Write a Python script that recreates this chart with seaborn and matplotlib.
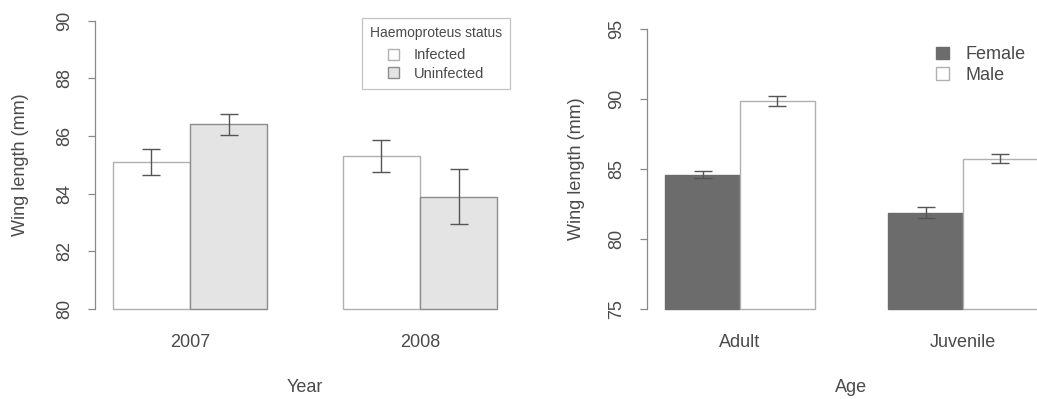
import numpy as np
import pandas as pd
import matplotlib
matplotlib.use("Agg")
import matplotlib.pyplot as plt
from matplotlib.patches import Patch
import seaborn as sns

# Panel A: wing length by year and Haemoproteus infection status
years = ["2007", "2008"]
status_levels = ["Infected", "Uninfected"]
wing_infected = [85.1, 85.3]
wing_uninfected = [86.4, 83.9]
se_infected = [0.45, 0.55]
se_uninfected = [0.38, 0.95]

# Panel B: wing length by age class and sex
ages = ["Adult", "Juvenile"]
sex_levels = ["Female", "Male"]
wing_female = [84.6, 81.9]
wing_male = [89.9, 85.75]
se_female = [0.25, 0.40]
se_male = [0.35, 0.33]

df_year = pd.DataFrame({
    "Year": years * 2,
    "Status": [status_levels[0]] * 2 + [status_levels[1]] * 2,
    "Wing": wing_infected + wing_uninfected,
    "SE": se_infected + se_uninfected,
})
df_age = pd.DataFrame({
    "Age": ages * 2,
    "Sex": [sex_levels[0]] * 2 + [sex_levels[1]] * 2,
    "Wing": wing_female + wing_male,
    "SE": se_female + se_male,
})

sns.set_style("white")
plt.rcParams["font.family"] = ["Liberation Sans", "DejaVu Sans"]
TXT = "#4a4a4a"
AX = "#8a8a8a"
plt.rcParams["text.color"] = TXT
plt.rcParams["axes.labelcolor"] = TXT
plt.rcParams["xtick.color"] = TXT
plt.rcParams["ytick.color"] = TXT

fig = plt.figure(figsize=(10.37, 3.99), dpi=100)
ax1 = fig.add_axes([0.0916, 0.1965, 0.405, 0.7807])
ax2 = fig.add_axes([0.6239, 0.1975, 0.3944, 0.7571])

fills_a = {"Infected": "#ffffff", "Uninfected": "#e4e4e4"}
edges_a = {"Infected": "#b0b0b0", "Uninfected": "#8c8c8c"}
fills_b = {"Female": "#6c6c6c", "Male": "#ffffff"}
edges_b = {"Female": "#6c6c6c", "Male": "#b0b0b0"}


def draw_panel(ax, df, xcol, hcol, order, hue_order, fills, edges, base,
               ylim, yticks, xlabel, ylabelpad):
    sns.barplot(data=df, x=xcol, y="Wing", hue=hcol, order=order,
                hue_order=hue_order, palette=fills, width=0.67, gap=0,
                errorbar=None, legend=False, linewidth=1.0, ax=ax)
    for level, cont in zip(hue_order, ax.containers):
        sub = df[df[hcol] == level].set_index(xcol).loc[order]
        xs = []
        for bar in cont:
            bar.set_edgecolor(edges[level])
            top = bar.get_y() + bar.get_height()
            bar.set_y(base)
            bar.set_height(top - base)
            xs.append(bar.get_x() + bar.get_width() / 2)
        ax.errorbar(xs, sub["Wing"].values, yerr=sub["SE"].values, fmt="none",
                    ecolor="#555555", elinewidth=1.0, capsize=6.5,
                    capthick=1.0, zorder=5)
    ax.set_ylim(*ylim)
    ax.set_yticks(yticks)
    ax.set_yticklabels([str(t) for t in yticks], rotation=90, va="center")
    for s in ["top", "right", "bottom"]:
        ax.spines[s].set_visible(False)
    ax.spines["left"].set_bounds(yticks[0], yticks[-1])
    ax.spines["left"].set_color(AX)
    ax.spines["left"].set_linewidth(0.9)
    ax.tick_params(axis="y", length=5, width=0.9, color=AX, pad=10.5,
                   labelsize=13, left=True)
    ax.tick_params(axis="x", length=0, pad=10, labelsize=13)
    ax.set_xlabel(xlabel, fontsize=13, labelpad=20)
    ax.set_ylabel("Wing length (mm)", fontsize=13, labelpad=ylabelpad)


draw_panel(ax1, df_year, "Year", "Status", years, status_levels, fills_a,
           edges_a, 80, (79.6, 90.4), [80, 82, 84, 86, 88, 90], "Year", 20)
ax1.set_xlim(-0.413, 1.413)

draw_panel(ax2, df_age, "Age", "Sex", ages, sex_levels, fills_b,
           edges_b, 75, (74.2, 95.8), [75, 80, 85, 90, 95], "Age", 17)
ax2.set_xlim(-0.417, 1.417)

handles_a = [Patch(facecolor=fills_a[k], edgecolor=edges_a[k], label=k)
             for k in status_levels]
leg1 = ax1.legend(handles=handles_a, title="Haemoproteus status",
                  loc="upper right", bbox_to_anchor=(0.988, 0.971),
                  borderaxespad=0, fontsize=10.5, title_fontsize=10,
                  frameon=True, fancybox=False, edgecolor="#b5b5b5",
                  handlelength=0.8, handleheight=0.8, handletextpad=1.0,
                  labelspacing=0.3, borderpad=0.55)
leg1.get_frame().set_linewidth(0.9)
leg1.get_title().set_color(TXT)
leg1._legend_box.sep = 6

handles_b = [Patch(facecolor=fills_b[k], edgecolor=edges_b[k], label=k)
             for k in sex_levels]
ax2.legend(handles=handles_b, loc="upper left", bbox_to_anchor=(0.69, 0.93),
           borderaxespad=0, fontsize=13, frameon=False, handlelength=0.7,
           handleheight=0.7, handletextpad=0.9, labelspacing=0.2)

fig.savefig("out.png", dpi=100)
